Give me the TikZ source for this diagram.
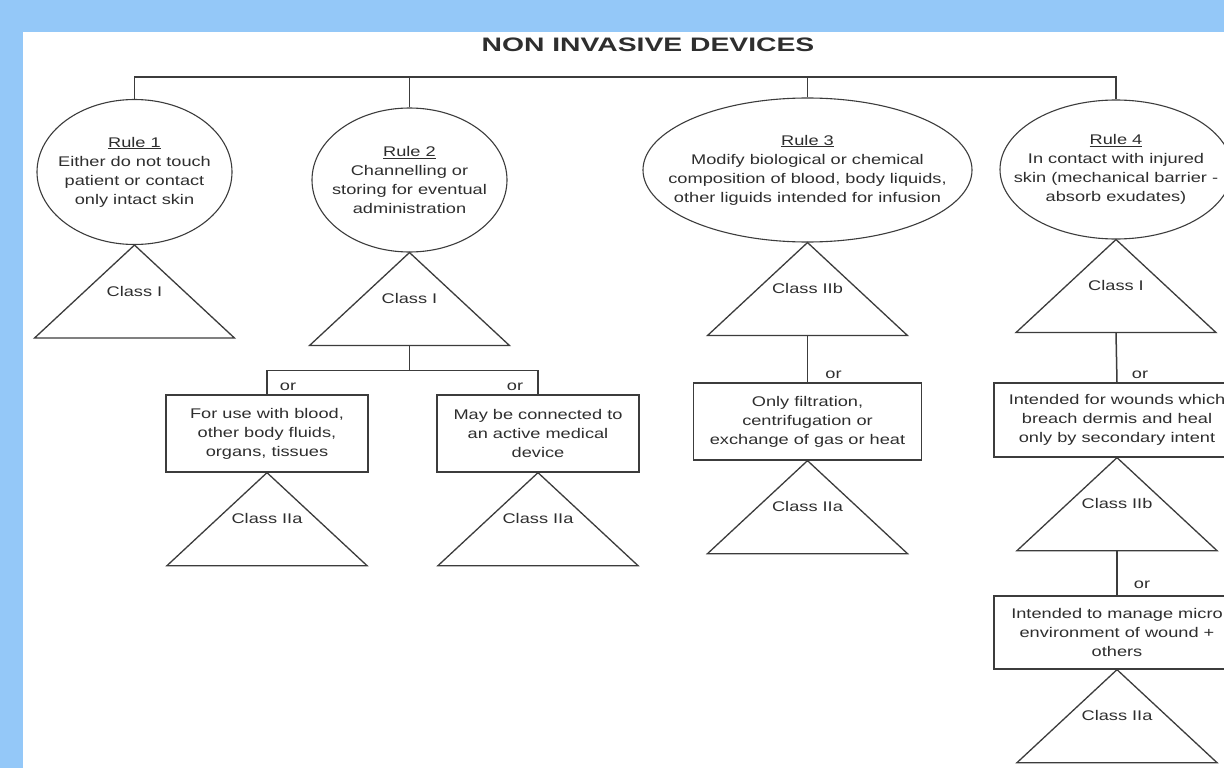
\documentclass[tikz,border=0pt]{standalone}
\usepackage{fontspec}
\setmainfont{Liberation Sans}[FakeStretch=1.3]
\newfontfamily\headfont{Liberation Sans}[FakeStretch=1.45]
\usepackage{tikz}
\usetikzlibrary{positioning, shapes.geometric, calc}
\definecolor{SkyBand}{HTML}{94C8F8}
\definecolor{FigInk}{HTML}{2E2E2E}
\definecolor{LineInk}{HTML}{3C3C3C}

\begin{document}
\begin{tikzpicture}[
    x=1pt, y=-1pt,
    font=\fontsize{14}{19}\selectfont,
    rule/.style={
      ellipse,
      draw=LineInk,
      line width=1.1pt,
      inner sep=0pt,
    },
    ruletext/.style={
      align=center,
      text=FigInk,
      inner sep=0pt,
    },
    crit/.style={
      rectangle,
      draw=LineInk,
      line width=1.3pt,
      align=center,
      text=FigInk,
      inner sep=0pt,
      minimum height=77pt,
    },
    tri/.style={draw=LineInk, line width=1.3pt},
    cls/.style={text=FigInk, inner sep=0pt},
    orlbl/.style={text=FigInk, inner sep=0pt},
    link/.style={draw=LineInk, line width=1.5pt},
  ]
    \useasboundingbox (0,0) rectangle (1224,768);
    \fill[SkyBand] (0,0) rectangle (1224,768);
    \fill[white] (23,32) rectangle (1224,768);

    \node[
      font=\headfont\bfseries\fontsize{19.5}{22}\selectfont,
      text=FigInk,
    ] (title) at (648,45) {NON INVASIVE DEVICES};
    \coordinate (bus) at (648,77);

    % the four rules
    \node[rule, minimum width=195pt, minimum height=145pt] (r1) at (134.5,172) {};
    \node[ruletext] (r1-txt) at (r1) {\underline{Rule 1}\\Either do not touch\\
      patient or contact\\only intact skin};

    \node[rule, minimum width=195pt, minimum height=144pt] (r2) at (409.5,180) {};
    \node[ruletext] (r2-txt) at (r2) {\underline{Rule 2}\\Channelling or\\
      storing for eventual\\administration};

    \node[rule, minimum width=329pt, minimum height=144pt] (r3) at (807.5,170) {};
    \node[ruletext] (r3-txt) at (r3) {\underline{Rule 3}\\Modify biological or chemical\\
      composition of blood, body liquids,\\other liguids intended for infusion};

    \node[rule, minimum width=232pt, minimum height=139pt] (r4) at (1116,169.5) {};
    \node[ruletext] (r4-txt) at (r4) {\underline{Rule 4}\\In contact with injured\\
      skin (mechanical barrier -\\absorb exudates)};

    % sub-criteria
    \node[crit, minimum width=202pt] (bA) at (267,433.5) {For use with blood,\\
      other body fluids,\\organs, tissues};
    \node[crit, minimum width=202pt] (bB) at (538,433.5) {May be connected to\\
      an active medical\\device};
    \node[crit, minimum width=228pt] (bC) at (807.5,421.5) {Only filtration,\\
      centrifugation or\\exchange of gas or heat};
    \node[crit, minimum width=246pt, minimum height=74pt] (bD) at (1117,420) {Intended for wounds which\\
      breach dermis and heal\\only by secondary intent};
    \node[crit, minimum width=246pt, minimum height=73pt] (bE) at (1117,632.5) {Intended to manage micro\\
      environment of wound +\\others};

    % class triangles hanging under each node
    \foreach \n/\c in {r1/Class I, r2/Class I, r3/Class IIb, r4/Class I,
                       bA/Class IIa, bB/Class IIa, bC/Class IIa,
                       bD/Class IIb, bE/Class IIa} {
      \draw[tri] (\n.south) -- ++(-100,93) -- ++(200,0) -- cycle;
      \node[cls] (\n-cls) at ([yshift=-46pt]\n.south) {\c};
      \coordinate (\n-base) at ([yshift=-93pt]\n.south);
    }

    \draw[link] (r1.north) -- (r1.north |- bus) -- (r4.north |- bus) -- (r4.north);
    \draw[link] (r2.north) -- (r2.north |- bus);
    \draw[link] (r3.north) -- (r3.north |- bus);

    \draw[link] (r2-base) -- ++(0,25) coordinate (j2) -| (bA.north);
    \draw[link] (j2) -| (bB.north);
    \draw[link] (r3-base) -- (bC.north);
    \draw[link] (r4-base) -- (bD.north);
    \draw[link] (bD-base) -- (bE.north);

    \node[orlbl] (orA) at ([xshift=21pt,yshift=8pt]bA.north) {or};
    \node[orlbl] (orB) at ([xshift=-23pt,yshift=8pt]bB.north) {or};
    \node[orlbl] (orC) at ([xshift=26pt,yshift=8pt]bC.north) {or};
    \node[orlbl] (orD) at ([xshift=23pt,yshift=8pt]bD.north) {or};
    \node[orlbl] (orE) at ([xshift=25pt,yshift=11pt]bE.north) {or};
  \end{tikzpicture}
\end{document}
